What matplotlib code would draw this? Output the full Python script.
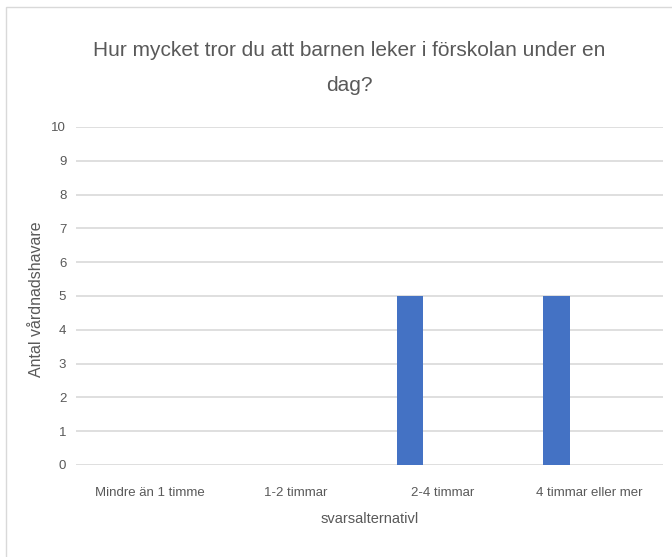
import matplotlib.pyplot as plt
import matplotlib.patches as mpatches
import numpy as np

categories = ["Mindre än 1 timme", "1-2 timmar", "2-4 timmar", "4 timmar eller mer"]
values = [0, 0, 5, 5]
title = "Hur mycket tror du att barnen leker i förskolan under en\ndag?"

plt.rcParams['font.family'] = ['Liberation Sans Narrow', 'Liberation Sans', 'DejaVu Sans']
grey = "#595959"

fig = plt.figure(figsize=(6.72, 5.57), dpi=100)
ax = fig.add_axes([0.1131, 0.1652, 0.8735, 0.6068])

x = np.arange(len(categories))
ax.bar(x - 0.225, values, width=0.18, color="#4472C4", zorder=3)

ax.set_xlim(-0.5, 3.5)
ax.set_ylim(0, 10)
ax.set_yticks(range(0, 11))
ax.set_xticks(x)
ax.set_xticklabels(categories)
ax.tick_params(axis="both", length=0, colors=grey, labelsize=9.5)
ax.tick_params(axis="x", pad=16)
ax.tick_params(axis="y", pad=7)
ax.grid(axis="y", color="#d9d9d9", linewidth=1.2, zorder=0)
for s in ax.spines.values():
    s.set_visible(False)

fig.text(0.52, 0.878, title, ha="center", va="center", fontsize=15,
         color=grey, linespacing=2.1)
ax.set_ylabel("Antal vårdnadshavare", color=grey, fontsize=11.5,
              family=['Liberation Sans', 'DejaVu Sans'])
ax.yaxis.set_label_coords(-0.055, 0.49)
ax.set_xlabel("svarsalternativl", color=grey, fontsize=10.5, labelpad=9)

border = mpatches.Rectangle((6 / 672, -0.1), 1.1, 1.1 - 7 / 557,
                            transform=fig.transFigure, fill=False,
                            edgecolor="#d9d9d9", linewidth=1)
fig.patches.append(border)

fig.savefig("out.png", dpi=100)
